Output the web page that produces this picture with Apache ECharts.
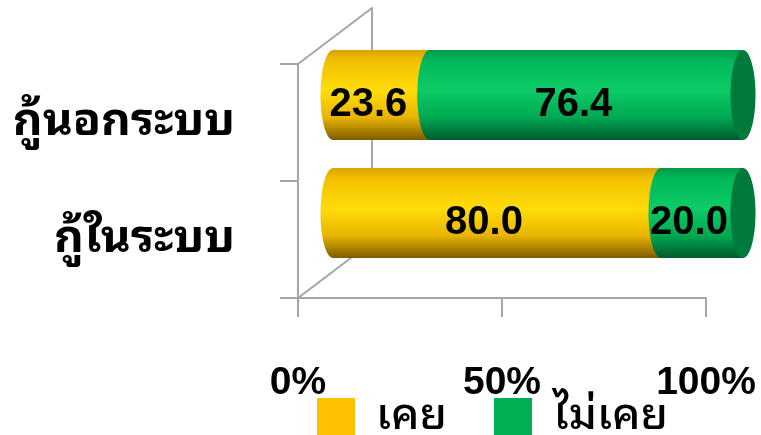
<!DOCTYPE html>
<html>
<head>
<meta charset="utf-8">
<script src="https://cdn.jsdelivr.net/npm/echarts@6/dist/echarts.min.js"></script>
<style>
html,body{margin:0;padding:0;background:#fff;}
#chart{width:761px;height:435px;}
</style>
</head>
<body>
<div id="chart"></div>
<script>
// Data (bottom to top)
const categories = ['กู้ในระบบ', 'กู้นอกระบบ'];
const seriesNames = ['เคย', 'ไม่เคย'];
const everBorrowed = [80.0, 23.6];
const neverBorrowed = [20.0, 76.4];
const xTicks = [0, 50, 100];

const thaiFont = '"Noto Sans Thai Looped","Noto Sans Thai",sans-serif';
const numFont = '"Liberation Sans",Arial,sans-serif';

const gradYellow = {type:'linear',x:0,y:0,x2:0,y2:1,colorStops:[
  {offset:0,color:'#D9A200'},{offset:0.12,color:'#F2C000'},{offset:0.45,color:'#FFDC0A'},
  {offset:0.75,color:'#E8B400'},{offset:1,color:'#7E5C00'}]};
const gradGreen = {type:'linear',x:0,y:0,x2:0,y2:1,colorStops:[
  {offset:0,color:'#009A4A'},{offset:0.12,color:'#00B85A'},{offset:0.45,color:'#0CCB66'},
  {offset:0.75,color:'#00A852'},{offset:1,color:'#005A2C'}]};
const capGreen = '#007A3C';

function buildData(values, prev) {
  return values.map((v, i) => {
    const start = prev ? prev[i] : 0;
    return [i, start, start + v, v];
  });
}
const yellowData = buildData(everBorrowed, null);
const greenData = buildData(neverBorrowed, everBorrowed);

function makeRender(fill, isLast) {
  return function (params, api) {
    const cat = api.value(0);
    const s = api.value(1), e = api.value(2), v = api.value(3);
    const p0 = api.coord([s, cat]);
    const p1 = api.coord([e, cat]);
    const band = api.size([0, 1])[1];
    const h = band * 0.763;
    const ry = h / 2;
    const rx = 12.5;
    const cy = p0[1];
    const children = [
      {type:'ellipse', shape:{cx:p0[0], cy:cy, rx:rx, ry:ry}, style:{fill:fill}},
      {type:'rect', shape:{x:p0[0], y:cy-ry, width:p1[0]-p0[0], height:h}, style:{fill:fill}}
    ];
    if (isLast) {
      children.push({type:'ellipse', shape:{cx:p1[0], cy:cy, rx:rx, ry:ry}, style:{fill:capGreen}});
    }
    children.push({type:'text', style:{
      text: v.toFixed(1), x:(p0[0]+p1[0])/2 - 13, y: cy + 10,
      align:'center', verticalAlign:'middle',
      font:'bold 40px ' + numFont, fill:'#000'
    }});
    return {type:'group', children:children};
  };
}

const chart = echarts.init(document.getElementById('chart'), null, {renderer:'canvas'});
chart.setOption({
  animation:false,
  backgroundColor:'#fff',
  grid:[
    {left:298, top:64, width:408, height:234},   // front frame / axes
    {left:372, top:8, width:408, height:234},    // back wall
    {left:333, top:36, width:410, height:236}    // cylinders
  ],
  xAxis:[
    {gridIndex:0, type:'value', min:0, max:100, interval:50,
     axisLine:{show:true, lineStyle:{color:'#A6A6A6', width:2}},
     axisTick:{show:true, length:19, lineStyle:{color:'#A6A6A6', width:2}},
     splitLine:{show:false},
     axisLabel:{formatter:'{value}%', margin:66, color:'#000',
       fontFamily:numFont, fontWeight:'bold', fontSize:39}},
    {gridIndex:1, type:'value', min:0, max:100, show:false},
    {gridIndex:2, type:'value', min:0, max:100, show:false}
  ],
  yAxis:[
    {gridIndex:0, type:'category', data:categories,
     axisLine:{show:true, lineStyle:{color:'#A6A6A6', width:2}},
     axisTick:{show:true, length:18, lineStyle:{color:'#A6A6A6', width:2}},
     axisLabel:{margin:63, color:'#000', fontFamily:thaiFont, fontWeight:'bold', fontSize:46}},
    {gridIndex:1, type:'category', data:categories,
     axisLine:{show:true, lineStyle:{color:'#A6A6A6', width:2}},
     axisTick:{show:false}, axisLabel:{show:false}},
    {gridIndex:2, type:'category', data:categories, show:false}
  ],
  graphic:[
    {type:'line', shape:{x1:298, y1:64, x2:372, y2:8}, style:{stroke:'#A6A6A6', lineWidth:2}, z:0},
    {type:'line', shape:{x1:298, y1:298, x2:372, y2:242}, style:{stroke:'#A6A6A6', lineWidth:2}, z:0}
  ],
  legend:{
    left:317, top:395, padding:0, itemWidth:38, itemHeight:38, itemGap:47,
    icon:'rect',
    data:seriesNames,
    textStyle:{fontFamily:thaiFont, fontSize:44, fontWeight:500, color:'#000', padding:[0,0,0,16]}
  },
  series:[
    {name:seriesNames[0], type:'custom', xAxisIndex:2, yAxisIndex:2,
     itemStyle:{color:'#FFC000'}, renderItem:makeRender(gradYellow, false),
     data:yellowData, z:5},
    {name:seriesNames[1], type:'custom', xAxisIndex:2, yAxisIndex:2,
     itemStyle:{color:'#00B050'}, renderItem:makeRender(gradGreen, true),
     data:greenData, z:6}
  ]
});
</script>
</body>
</html>
